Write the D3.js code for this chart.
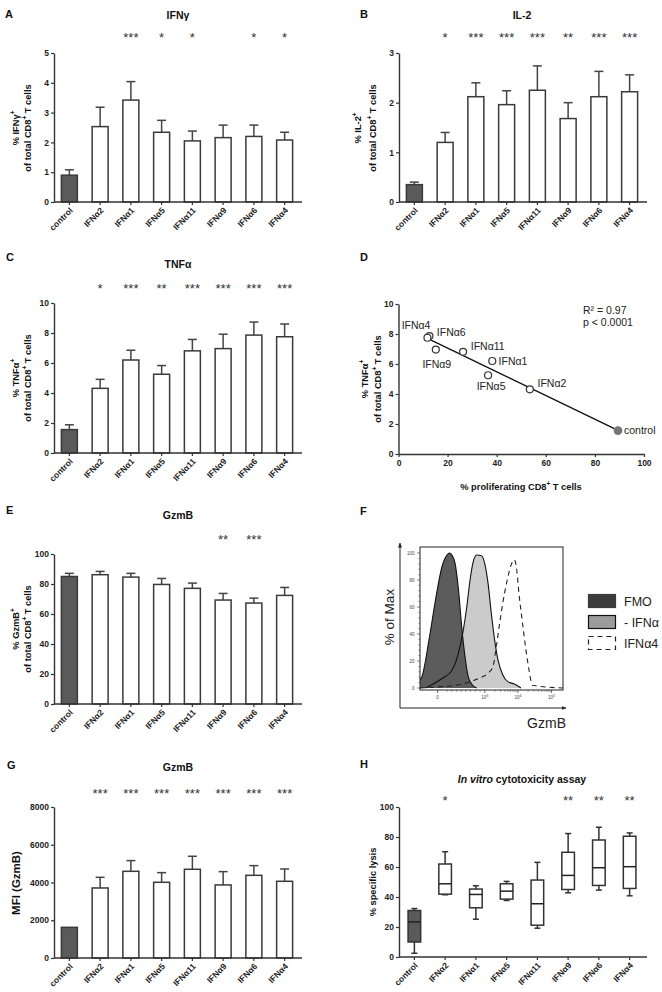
<!DOCTYPE html>
<html>
<head>
<meta charset="utf-8">
<script src="https://cdn.jsdelivr.net/npm/d3@7"></script>
<style>
body { margin: 0; background: #fff; }
svg { font-family: "Liberation Sans", Arial, sans-serif; }
</style>
</head>
<body>
<svg id="fig" width="662" height="992"></svg>
<script>
// ---- data ----
var groups = ["control", "IFNα2", "IFNα1", "IFNα5", "IFNα11", "IFNα9", "IFNα6", "IFNα4"];

// A: IFNγ
var ifngMean = [0.90, 2.53, 3.42, 2.34, 2.05, 2.16, 2.20, 2.08];
var ifngSem  = [0.18, 0.65, 0.62, 0.40, 0.33, 0.42, 0.38, 0.26];
var ifngStars = ["", "", "***", "*", "*", "", "*", "*"];

// B: IL-2
var il2Mean = [0.35, 1.20, 2.12, 1.96, 2.25, 1.68, 2.12, 2.22];
var il2Sem  = [0.05, 0.20, 0.28, 0.28, 0.49, 0.32, 0.51, 0.34];
var il2Stars = ["", "*", "***", "***", "***", "**", "***", "***"];

// C: TNFα
var tnfMean = [1.56, 4.31, 6.20, 5.25, 6.81, 6.96, 7.86, 7.75];
var tnfSem  = [0.32, 0.60, 0.65, 0.58, 0.76, 0.96, 0.87, 0.85];
var tnfStars = ["", "*", "***", "**", "***", "***", "***", "***"];

// D: proliferation vs TNFα
var prolif = [89.4, 53.5, 38.2, 36.5, 26.3, 15.2, 12.6, 11.8];

// E: GzmB %
var gzmbMean = [85.0, 86.2, 84.6, 79.7, 77.1, 69.3, 67.3, 72.4];
var gzmbSem  = [2.1, 2.2, 2.5, 4.0, 3.5, 4.4, 3.3, 5.3];
var gzmbStars = ["", "", "", "", "", "**", "***", ""];

// F: histograms (channel 0-1000 across the plot, % of max)
var fmoCh  = [0, 12, 62, 108, 154, 189, 206, 223, 246, 269, 292, 315, 338, 361, 396];
var fmoPct = [6, 8, 35, 65, 90, 98.5, 100, 98.5, 92, 73, 45, 23, 8, 3, 0];
var ctlCh  = [39, 154, 223, 269, 303, 327, 350, 372, 396, 430, 453, 476, 499, 522, 545, 579, 614, 660, 706];
var ctlPct = [0, 7, 13, 26, 43, 60, 80, 93.5, 98.5, 98, 92, 77.5, 55, 35.5, 21, 9.6, 4.7, 3, 0];
var a4Ch   = [0, 150, 250, 315, 384, 430, 476, 510, 534, 557, 579, 610, 637, 660, 672, 694, 717, 741, 763, 786, 1000];
var a4Pct  = [0, 1, 2, 3.5, 6, 8, 11, 16, 31, 48, 63, 80, 91, 95, 91, 68, 48, 28, 13, 2, 0];
var histTickCh = [122, 453, 685, 920];
var histTickLabels = [["0", ""], ["10", "3"], ["10", "4"], ["10", "5"]];
var legendLabels = ["FMO", "- IFNα", "IFNα4"];

// G: GzmB MFI
var mfiMean = [1625, 3710, 4593, 4010, 4700, 3870, 4380, 4064];
var mfiSem  = [0, 565, 567, 513, 690, 706, 514, 653];
var mfiStars = ["", "***", "***", "***", "***", "***", "***", "***"];

// H: cytotoxicity box plots
var lysisMin = [2.5, 41.5, 25.2, 37.7, 19.2, 42.8, 44.6, 40.8];
var lysisQ1  = [10.0, 41.9, 32.8, 38.6, 21.2, 45.0, 47.7, 45.7];
var lysisMed = [23.4, 48.8, 41.7, 43.9, 35.5, 54.4, 59.5, 60.2];
var lysisQ3  = [31.0, 62.0, 45.3, 48.8, 51.3, 69.8, 78.0, 80.5];
var lysisMax = [32.3, 70.2, 47.5, 50.4, 63.1, 82.3, 86.5, 82.7];
var lysisStars = ["", "*", "", "", "", "**", "**", "**"];

// ---- drawing ----
var svg = d3.select("#fig");
var ink = "#333";
var darkFill = "#5a5a5a";

function styleAxis(g) {
  g.select(".domain").attr("stroke", ink).attr("stroke-width", 1.4);
  g.selectAll(".tick line").attr("stroke", ink).attr("stroke-width", 1.2);
  g.selectAll(".tick text").attr("font-size", 8.5).attr("font-weight", "bold").attr("fill", "#222");
}

// text with optional superscript / italic parts
function rich(sel, parts, size) {
  var up = false;
  parts.forEach(function(p) {
    var ts = sel.append("tspan").text(p.t);
    if (p.sup) { ts.attr("font-size", size * 0.68).attr("dy", -size * 0.42); up = true; }
    else if (up) { ts.attr("dy", size * 0.42); up = false; }
    if (p.it) ts.attr("font-style", "italic");
  });
  return sel;
}

function letter(x, y, t) {
  svg.append("text").attr("x", x).attr("y", y).attr("font-size", 11)
    .attr("font-weight", "bold").attr("fill", "#111").text(t);
}

function title(x, y, parts) {
  var t = svg.append("text").attr("x", x).attr("y", y).attr("text-anchor", "middle")
    .attr("font-size", 10.5).attr("font-weight", "bold").attr("fill", "#111");
  rich(t, parts, 10.5);
}

function yLabel(x, cy, parts, size) {
  var t = svg.append("text").attr("transform", "translate(" + x + "," + cy + ") rotate(-90)")
    .attr("text-anchor", "middle").attr("font-size", size).attr("font-weight", "bold").attr("fill", "#111");
  rich(t, parts, size);
}

function catAxis(x, y0) {
  var g = svg.append("g").attr("transform", "translate(0," + y0 + ")")
    .call(d3.axisBottom(x).tickSize(3).tickSizeOuter(0).tickFormat(""));
  styleAxis(g);
  g.select(".domain").attr("d", "M" + x.range()[0] + ",0H" + (x.range()[1] + 2));
  groups.forEach(function(d) {
    var cx = x(d) + x.bandwidth() / 2;
    svg.append("text")
      .attr("transform", "translate(" + (cx + 4) + "," + (y0 + 9) + ") rotate(-45)")
      .attr("text-anchor", "end").attr("font-size", 8.5).attr("font-weight", "bold")
      .attr("fill", "#222").text(d);
  });
}

function starRow(x, yb, stars) {
  groups.forEach(function(d, i) {
    if (!stars[i]) return;
    svg.append("text").attr("x", x(d) + x.bandwidth() / 2).attr("y", yb)
      .attr("text-anchor", "middle").attr("font-size", 13).attr("fill", "#333").text(stars[i]);
  });
}

function barPanel(p) {
  var x = d3.scaleBand().domain(groups).range(p.xr).paddingInner(0.48).paddingOuter(0.24);
  var y = d3.scaleLinear().domain([0, p.max]).range(p.yr);
  var g = svg.append("g");

  groups.forEach(function(d, i) {
    if (!(p.sems[i] > 0)) return;
    var c = x(d) + x.bandwidth() / 2, top = y(p.means[i] + p.sems[i]);
    g.append("line").attr("x1", c).attr("x2", c).attr("y1", y(p.means[i])).attr("y2", top)
      .attr("stroke", "#444").attr("stroke-width", 1.5);
    g.append("line").attr("x1", c - 4.5).attr("x2", c + 4.5).attr("y1", top).attr("y2", top)
      .attr("stroke", "#444").attr("stroke-width", 1.5);
  });

  g.selectAll("rect").data(groups).enter().append("rect")
    .attr("x", function(d) { return x(d); })
    .attr("width", x.bandwidth())
    .attr("y", function(d, i) { return y(p.means[i]); })
    .attr("height", function(d, i) { return y(0) - y(p.means[i]); })
    .attr("fill", function(d, i) { return i === 0 ? darkFill : "#fff"; })
    .attr("stroke", "#3a3a3a").attr("stroke-width", 1.5);

  var ya = svg.append("g").attr("transform", "translate(" + p.xr[0] + ",0)")
    .call(d3.axisLeft(y).tickValues(d3.range(0, p.max + p.step / 2, p.step))
      .tickSize(3).tickPadding(2).tickSizeOuter(0).tickFormat(d3.format("d")));
  styleAxis(ya);
  catAxis(x, p.yr[0]);
  starRow(x, p.starY, p.stars);
  return x;
}

// A
letter(5, 18, "A");
title(178, 19, [{t: "IFNγ"}]);
barPanel({xr: [54, 300], yr: [202, 53], max: 5, step: 1, means: ifngMean, sems: ifngSem, stars: ifngStars, starY: 41.6});
yLabel(18.5, 128, [{t: "% IFNγ"}, {t: "+", sup: true}], 9.3);
yLabel(30.5, 128, [{t: "of total CD8"}, {t: "+", sup: true}, {t: " T cells"}], 9.3);

// B
letter(360, 18, "B");
title(522, 19, [{t: "IL-2"}]);
barPanel({xr: [399, 645], yr: [202, 53], max: 3, step: 1, means: il2Mean, sems: il2Sem, stars: il2Stars, starY: 41.6});
yLabel(361, 128, [{t: "% IL-2"}, {t: "+", sup: true}], 9.3);
yLabel(376, 128, [{t: "of total CD8"}, {t: "+", sup: true}, {t: " T cells"}], 9.3);

// C
letter(6, 261, "C");
title(178, 268, [{t: "TNFα"}]);
barPanel({xr: [54, 300], yr: [453, 303], max: 10, step: 2, means: tnfMean, sems: tnfSem, stars: tnfStars, starY: 292.6});
yLabel(18.5, 378, [{t: "% TNFα"}, {t: "+", sup: true}], 9.3);
yLabel(30.5, 378, [{t: "of total CD8"}, {t: "+", sup: true}, {t: " T cells"}], 9.3);

// D scatter
(function() {
  letter(360, 261, "D");
  var x = d3.scaleLinear().domain([0, 100]).range([398.5, 644]);
  var y = d3.scaleLinear().domain([0, 10]).range([454, 304]);
  var xa = svg.append("g").attr("transform", "translate(0,454)")
    .call(d3.axisBottom(x).tickValues(d3.range(0, 101, 20)).tickSize(3).tickSizeOuter(0));
  styleAxis(xa);
  var ya = svg.append("g").attr("transform", "translate(398.5,0)")
    .call(d3.axisLeft(y).tickValues(d3.range(0, 11, 2)).tickSize(3).tickPadding(2).tickSizeOuter(0));
  styleAxis(ya);

  // least squares line
  var mx = d3.mean(prolif), my = d3.mean(tnfMean);
  var sxy = d3.sum(prolif, function(v, i) { return (v - mx) * (tnfMean[i] - my); });
  var sxx = d3.sum(prolif, function(v) { return (v - mx) * (v - mx); });
  var slope = sxy / sxx, icpt = my - slope * mx;
  var ext = d3.extent(prolif);
  svg.append("line").attr("x1", x(ext[0])).attr("y1", y(icpt + slope * ext[0]))
    .attr("x2", x(ext[1])).attr("y2", y(icpt + slope * ext[1]))
    .attr("stroke", "#111").attr("stroke-width", 1.3);

  svg.selectAll("circle.pt").data(groups).enter().append("circle")
    .attr("cx", function(d, i) { return x(prolif[i]); })
    .attr("cy", function(d, i) { return y(tnfMean[i]); })
    .attr("r", function(d, i) { return i === 0 ? 3.8 : 3.5; })
    .attr("fill", function(d, i) { return i === 0 ? "#777" : "#fff"; })
    .attr("stroke", function(d, i) { return i === 0 ? "#777" : "#333"; })
    .attr("stroke-width", 1.2);

  // label placement: [dx, dy, anchor]
  var place = [[6, 0, "start"], [7.7, -6, "start"], [6.3, 0, "start"], [3, 11.5, "middle"],
               [7.7, -5.3, "start"], [1, 14.6, "middle"], [7.4, -3.6, "start"], [3, -12.7, "end"]];
  groups.forEach(function(d, i) {
    svg.append("text").attr("x", x(prolif[i]) + place[i][0])
      .attr("y", y(tnfMean[i]) + place[i][1] + 3.7)
      .attr("text-anchor", place[i][2]).attr("font-size", 10.5).attr("fill", "#222").text(d);
  });
  svg.append("text").attr("x", 583).attr("y", 313.5).attr("font-size", 10.5).attr("fill", "#222").text("R² = 0.97");
  svg.append("text").attr("x", 583).attr("y", 326).attr("font-size", 10.5).attr("fill", "#222").text("p < 0.0001");

  var xl = svg.append("text").attr("x", 521).attr("y", 490).attr("text-anchor", "middle")
    .attr("font-size", 9.3).attr("font-weight", "bold").attr("fill", "#111");
  rich(xl, [{t: "% proliferating CD8"}, {t: "+", sup: true}, {t: " T cells"}], 9.3);
  yLabel(368, 379, [{t: "% TNFα"}, {t: "+", sup: true}], 9.3);
  yLabel(381, 379, [{t: "of total CD8"}, {t: "+", sup: true}, {t: " T cells"}], 9.3);
})();

// E
letter(6, 514, "E");
title(178, 519, [{t: "GzmB"}]);
barPanel({xr: [54, 300], yr: [704, 554], max: 100, step: 20, means: gzmbMean, sems: gzmbSem, stars: gzmbStars, starY: 543.6});
yLabel(18.5, 629, [{t: "% GzmB"}, {t: "+", sup: true}], 9.3);
yLabel(30.5, 629, [{t: "of total CD8"}, {t: "+", sup: true}, {t: " T cells"}], 9.3);

// F histogram overlay
(function() {
  letter(360, 515, "F");
  var x = d3.scaleLinear().domain([0, 1000]).range([420, 563]);
  var y = d3.scaleLinear().domain([0, 100]).range([688, 553]);
  var top = 547, bot = 690;

  function pts(ch, pc) { return ch.map(function(c, i) { return [c, pc[i]]; }); }
  var area = d3.area().x(function(d) { return x(d[0]); }).y0(y(0)).y1(function(d) { return y(d[1]); })
    .curve(d3.curveMonotoneX);
  var line = d3.line().x(function(d) { return x(d[0]); }).y(function(d) { return y(d[1]); })
    .curve(d3.curveMonotoneX);

  svg.append("path").attr("d", area(pts(ctlCh, ctlPct))).attr("fill", "#cbcbcb");
  svg.append("path").attr("d", area(pts(fmoCh, fmoPct))).attr("fill", "#5c5c5c");
  svg.append("path").attr("d", line(pts(ctlCh, ctlPct))).attr("fill", "none").attr("stroke", "#111").attr("stroke-width", 1.1);
  svg.append("path").attr("d", line(pts(fmoCh, fmoPct))).attr("fill", "none").attr("stroke", "#111").attr("stroke-width", 1.1);
  svg.append("path").attr("d", line(pts(a4Ch, a4Pct))).attr("fill", "none").attr("stroke", "#222")
    .attr("stroke-width", 1.1).attr("stroke-dasharray", "5,4");

  // frame
  svg.append("rect").attr("x", 420).attr("y", top).attr("width", 143).attr("height", bot - top)
    .attr("fill", "none").attr("stroke", "#222").attr("stroke-width", 1);

  // y ticks
  d3.range(0, 101, 4).forEach(function(v) {
    var major = v % 20 === 0;
    svg.append("line").attr("x1", 420).attr("x2", major ? 417 : 418.5)
      .attr("y1", y(v)).attr("y2", y(v)).attr("stroke", "#333").attr("stroke-width", 0.6);
    if (major) svg.append("text").attr("x", 414.5).attr("y", y(v) + 1.5).attr("text-anchor", "end")
      .attr("font-size", 4.5).attr("fill", "#444").text(v);
  });
  // x ticks (log minor ticks between decades)
  histTickCh.forEach(function(c, i) {
    svg.append("line").attr("x1", x(c)).attr("x2", x(c)).attr("y1", bot).attr("y2", bot + 3)
      .attr("stroke", "#333").attr("stroke-width", 0.7);
    var t = svg.append("text").attr("x", x(c)).attr("y", bot + 9).attr("text-anchor", "middle")
      .attr("font-size", 4.5).attr("fill", "#444").text(histTickLabels[i][0]);
    if (histTickLabels[i][1]) t.append("tspan").attr("dy", -2).attr("font-size", 3.8).text(histTickLabels[i][1]);
    if (i > 0) {
      var a = histTickCh[i - 1], b = c;
      d3.range(2, 10).forEach(function(k) {
        var cc = i === 1 ? a + (b - a) * (k / 10) : a + (b - a) * Math.log10(k);
        svg.append("line").attr("x1", x(cc)).attr("x2", x(cc)).attr("y1", bot).attr("y2", bot + 1.8)
          .attr("stroke", "#333").attr("stroke-width", 0.5);
      });
    }
  });

  // outer arrows
  var defs = svg.append("defs");
  defs.append("marker").attr("id", "arr").attr("viewBox", "0 0 10 10").attr("refX", 9).attr("refY", 5)
    .attr("markerWidth", 5).attr("markerHeight", 5).attr("orient", "auto")
    .append("path").attr("d", "M0,1L10,5L0,9Z").attr("fill", "#222");
  svg.append("line").attr("x1", 400).attr("y1", 708).attr("x2", 400).attr("y2", 543)
    .attr("stroke", "#222").attr("stroke-width", 1).attr("marker-end", "url(#arr)");
  svg.append("line").attr("x1", 400).attr("y1", 708).attr("x2", 566).attr("y2", 708)
    .attr("stroke", "#222").attr("stroke-width", 1).attr("marker-end", "url(#arr)");

  svg.append("text").attr("transform", "translate(394,617) rotate(-90)").attr("text-anchor", "middle")
    .attr("font-size", 13.5).attr("fill", "#222").text("% of Max");
  svg.append("text").attr("x", 566).attr("y", 728).attr("text-anchor", "end")
    .attr("font-size", 14).attr("fill", "#222").text("GzmB");

  // legend
  var sw = [{fill: "#3c3c3c", stroke: "#3c3c3c", dash: null},
            {fill: "#9c9c9c", stroke: "#111", dash: null},
            {fill: "none", stroke: "#222", dash: "5,4"}];
  legendLabels.forEach(function(l, i) {
    var yy = 594.5 + i * 21;
    svg.append("rect").attr("x", 588.5).attr("y", yy).attr("width", 27).attr("height", 13)
      .attr("fill", sw[i].fill).attr("stroke", sw[i].stroke).attr("stroke-width", 1.2)
      .attr("stroke-dasharray", sw[i].dash);
    svg.append("text").attr("x", 624).attr("y", yy + 11).attr("font-size", 12.5).attr("fill", "#222").text(l);
  });
})();

// G
letter(7, 769, "G");
title(178, 771, [{t: "GzmB"}]);
barPanel({xr: [54, 300], yr: [958, 807], max: 8000, step: 2000, means: mfiMean, sems: mfiSem, stars: mfiStars, starY: 797.6});
yLabel(19.5, 883, [{t: "MFI (GzmB)"}], 11.5);

// H box plots
(function() {
  letter(360, 768, "H");
  title(522, 783, [{t: "In vitro", it: true}, {t: " cytotoxicity assay"}]);
  var x = d3.scaleBand().domain(groups).range([399, 645]).paddingInner(0.59).paddingOuter(0.295);
  var y = d3.scaleLinear().domain([0, 100]).range([957, 807]);
  var cx = function(d) { return x(d) + x.bandwidth() / 2; };
  var g = svg.append("g");
  groups.forEach(function(d, i) {
    var c = cx(d);
    g.append("line").attr("x1", c).attr("x2", c).attr("y1", y(lysisMin[i])).attr("y2", y(lysisMax[i]))
      .attr("stroke", "#333").attr("stroke-width", 1.5);
    [lysisMin[i], lysisMax[i]].forEach(function(v) {
      g.append("line").attr("x1", c - 3).attr("x2", c + 3).attr("y1", y(v)).attr("y2", y(v))
        .attr("stroke", "#333").attr("stroke-width", 1.5);
    });
    g.append("rect").attr("x", x(d)).attr("width", x.bandwidth())
      .attr("y", y(lysisQ3[i])).attr("height", y(lysisQ1[i]) - y(lysisQ3[i]))
      .attr("fill", i === 0 ? darkFill : "#fff").attr("stroke", "#333").attr("stroke-width", 1.5);
    g.append("line").attr("x1", x(d)).attr("x2", x(d) + x.bandwidth())
      .attr("y1", y(lysisMed[i])).attr("y2", y(lysisMed[i])).attr("stroke", "#222").attr("stroke-width", 1.5);
  });
  var ya = svg.append("g").attr("transform", "translate(399,0)")
    .call(d3.axisLeft(y).tickValues(d3.range(0, 101, 20)).tickSize(3).tickPadding(2).tickSizeOuter(0));
  styleAxis(ya);
  catAxis(x, 957);
  starRow(x, 805.3, lysisStars);
  yLabel(376, 882, [{t: "% specific lysis"}], 9.3);
})();
</script>
</body>
</html>
